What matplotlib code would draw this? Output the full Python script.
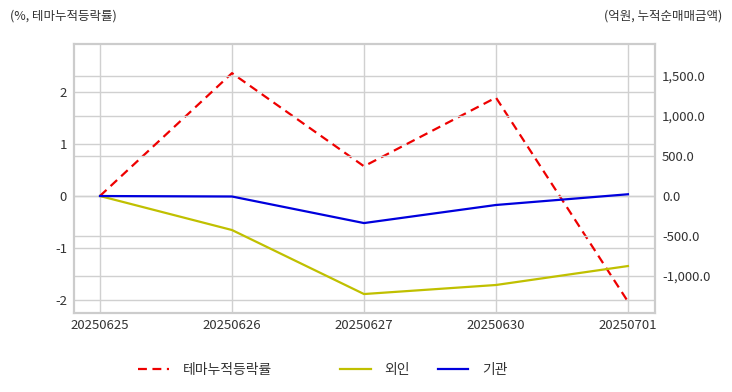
import matplotlib
matplotlib.use('Agg')
import matplotlib.pyplot as plt
from matplotlib.lines import Line2D
from matplotlib.ticker import FuncFormatter

plt.rcParams['font.family'] = ['Noto Sans CJK KR', 'DejaVu Sans']
plt.rcParams['axes.unicode_minus'] = False

# 데이터
dates = ['20250625', '20250626', '20250627', '20250630', '20250701']
theme_rate = [0.0, 2.36, 0.57, 1.89, -2.03]        # %, 테마누적등락률
foreign = [0.0, -425.0, -1225.0, -1112.0, -875.0]   # 억원, 외인
institution = [0.0, -6.0, -338.0, -112.0, 22.0]    # 억원, 기관

grid_c = '#d0d0d0'
text_c = '#333333'

fig = plt.figure(figsize=(7.32, 3.92), dpi=100)
ax = fig.add_axes([74 / 732, 1 - 313 / 392, 581 / 732, 269 / 392])
ax2 = ax.twinx()

x = list(range(len(dates)))
ax.plot(x, theme_rate, color='#ee0000', linestyle='--', linewidth=1.6, dashes=(4, 2.5), zorder=3)
ax2.plot(x, foreign, color='#c0c000', linewidth=1.6)
ax2.plot(x, institution, color='#0000dd', linewidth=1.6)

ax.set_xlim(-0.197, 4.205)
ax.set_ylim(-2.25, 2.92)
ax2.set_ylim(-1462, 1900)

ax.set_xticks(x)
ax.set_xticklabels(dates)
ax.set_yticks([-2, -1, 0, 1, 2])
ax2.set_yticks([-1000, -500, 0, 500, 1000, 1500])
ax2.yaxis.set_major_formatter(FuncFormatter(lambda v, p: f'{v:,.1f}'))

ax.grid(True, color=grid_c, linewidth=1)
ax2.grid(True, axis='y', color=grid_c, linewidth=1)
ax.set_axisbelow(True)
ax2.set_axisbelow(True)

for a in (ax, ax2):
    a.tick_params(length=0, labelsize=9.5, labelcolor=text_c, pad=5)
    for s in a.spines.values():
        s.set_color('#cccccc')
        s.set_linewidth(1.5)
ax.tick_params(axis='x', pad=4)

fig.text(10 / 732, 1 - 16 / 392, '(%, 테마누적등락률)', fontsize=9, color=text_c, va='center', ha='left')
fig.text(722 / 732, 1 - 16 / 392, '(억원, 누적순매매금액)', fontsize=9, color=text_c, va='center', ha='right')

leg_kw = dict(frameon=False, fontsize=10, handlelength=2.2, handletextpad=1.0,
              labelcolor=text_c, borderpad=0, borderaxespad=0)
h1 = [Line2D([], [], color='#ee0000', linestyle='--', linewidth=1.6, dashes=(4, 2.5))]
fig.legend(h1, ['테마누적등락률'], loc='center left',
           bbox_to_anchor=(138 / 732, 1 - 370 / 392), **leg_kw)
h2 = [Line2D([], [], color='#c0c000', linewidth=1.6), Line2D([], [], color='#0000dd', linewidth=1.6)]
fig.legend(h2, ['외인', '기관'], loc='center left', ncol=2, columnspacing=2.0,
           bbox_to_anchor=(340 / 732, 1 - 370 / 392), **leg_kw)

fig.savefig('out.png', dpi=100)
